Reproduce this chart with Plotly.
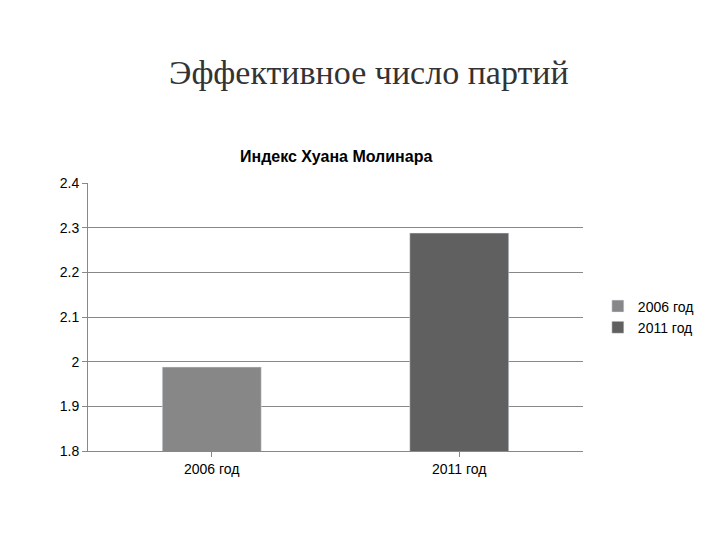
import plotly.graph_objects as go

categories = ["2006 год", "2011 год"]
values = [1.988, 2.288]
colors = ["#878787", "#606060"]
tick_vals = [1.8, 1.9, 2.0, 2.1, 2.2, 2.3, 2.4]
tick_text = ["1.8", "1.9", "2", "2.1", "2.2", "2.3", "2.4"]

fig = go.Figure()
for c, v, col in zip(categories, values, colors):
    fig.add_trace(go.Bar(x=[c], y=[v], name=c, marker_color=col, width=0.4))

fig.update_layout(
    width=720, height=540,
    barmode="overlay",
    plot_bgcolor="white", paper_bgcolor="white",
    margin=dict(l=80, r=145, t=175, b=97, autoexpand=False),
    font=dict(family="Liberation Sans", size=14, color="black"),
    showlegend=True,
    legend=dict(x=1.03, y=0.5, yanchor="middle", font=dict(size=14),
                itemwidth=30, tracegroupgap=4),
    annotations=[
        dict(text="Эффективное число партий", xref="paper", yref="paper",
             x=0.5, y=1, xanchor="center", yanchor="bottom", yshift=90,
             xshift=33, showarrow=False,
             font=dict(family="Liberation Serif", size=34, color="#333")),
        dict(text="<b>Индекс Хуана Молинара</b>", xref="paper", yref="paper",
             x=0.5, y=1, xanchor="center", yanchor="bottom", yshift=16,
             showarrow=False, font=dict(size=16)),
    ],
)
fig.update_yaxes(range=[1.8, 2.4], tickvals=tick_vals, ticktext=tick_text,
                 showgrid=True, gridcolor="#888", gridwidth=1, showline=True,
                 linecolor="#888", ticks="outside", ticklen=5, tickcolor="#888")
fig.update_xaxes(showline=True, linecolor="#888", ticks="outside", ticklen=5,
                 tickcolor="#888")

fig.write_html("out.html")
